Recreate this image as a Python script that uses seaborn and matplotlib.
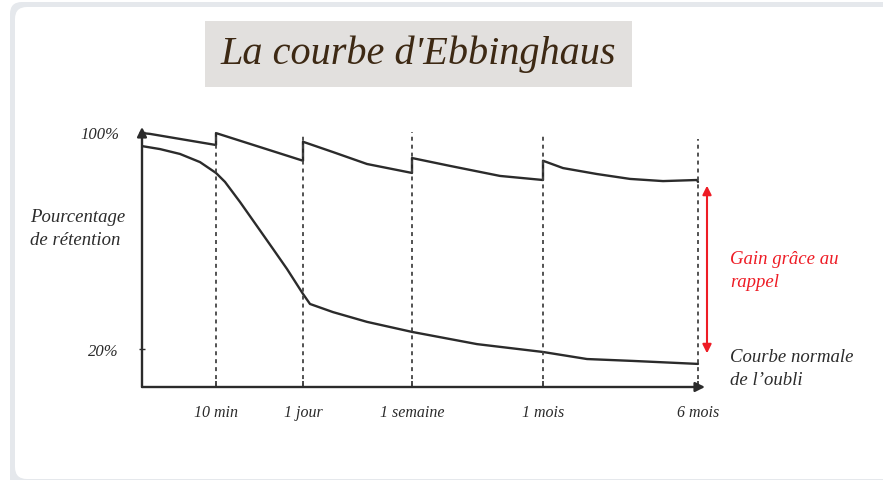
import numpy as np
import pandas as pd
import seaborn as sns
import matplotlib.pyplot as plt
from matplotlib.patches import FancyBboxPatch, Rectangle

# --- data (x = position on the non-linear time axis, y = % retention) ---
time_labels = ["10 min", "1 jour", "1 semaine", "1 mois", "6 mois"]
time_pos = [0.74, 1.61, 2.70, 4.01, 5.56]
dash_tops = [100.0, 98.5, 100.0, 98.9, 97.4]

forget_x = [0.0, 0.18, 0.38, 0.58, 0.74, 0.83, 0.98, 1.15, 1.31, 1.45,
            1.61, 1.68, 1.91, 2.25, 2.70, 3.35, 4.01, 4.45, 4.91, 5.56]
forget_y = [94.8, 93.7, 91.9, 88.9, 84.9, 81.6, 74.2, 65.3, 56.9, 49.5,
            40.3, 36.6, 33.6, 30.0, 26.3, 21.8, 18.9, 16.3, 15.6, 14.5]

recall_x = [0.0, 0.08, 0.74, 0.74, 1.61, 1.61, 1.91, 2.25, 2.70, 2.70,
            3.08, 3.58, 4.01, 4.01, 4.21, 4.55, 4.88, 5.21, 5.55, 5.56]
recall_y = [99.6, 99.3, 95.2, 99.6, 89.4, 96.4, 92.6, 88.2, 84.9, 90.4,
            87.5, 83.8, 82.3, 89.4, 86.7, 84.5, 82.7, 81.9, 82.3, 81.6]

gain_top, gain_bottom = 80.2, 18.4

sns.set_theme(style="white")
plt.rcParams["font.family"] = ["Liberation Serif", "DejaVu Serif"]

ink = "#2b2b2b"
red = "#ee1c25"

fig = plt.figure(figsize=(8.83, 4.81), dpi=100)

# background card + title box, drawn in pixel coordinates
bg = fig.add_axes([0, 0, 1, 1], zorder=-1)
bg.set_xlim(0, 883)
bg.set_ylim(481, 0)
bg.axis("off")
bg.add_patch(FancyBboxPatch((10, 3), 900, 500, boxstyle="round,pad=0,rounding_size=12",
                            fc="#e5e8ec", ec="none"))
bg.add_patch(FancyBboxPatch((15, 8), 900, 472, boxstyle="round,pad=0,rounding_size=12",
                            fc="white", ec="none"))
bg.add_patch(Rectangle((205, 22), 427, 66, fc="#e2e0de", ec="none"))
bg.text(418, 54, "La courbe d'Ebbinghaus", fontsize=29, style="italic",
        color="#3d2914", ha="center", va="center")
bg.text(30, 229, "Pourcentage\nde rétention", fontsize=13.5, style="italic",
        color=ink, ha="left", va="center", linespacing=1.45)
bg.text(730, 271, "Gain grâce au\nrappel", fontsize=13.5, style="italic",
        color=red, ha="left", va="center", linespacing=1.5)
bg.text(730, 369, "Courbe normale\nde l’oubli", fontsize=13.5, style="italic",
        color=ink, ha="left", va="center", linespacing=1.45)

ax = fig.add_axes([142 / 883, 1 - 388 / 481, (705 - 142) / 883, (388 - 128) / 481])
ax.set_facecolor("none")

curves = pd.concat([
    pd.DataFrame({"x": forget_x, "y": forget_y, "curve": "oubli"}),
    pd.DataFrame({"x": recall_x, "y": recall_y, "curve": "rappel"}),
])
for name, grp in curves.groupby("curve"):
    sns.lineplot(data=grp, x="x", y="y", sort=False, estimator=None,
                 color=ink, lw=1.7, ax=ax, legend=False)

ymin = 5.99
ax.vlines(time_pos, ymin, dash_tops, colors="#444444", linestyles=(0, (2.2, 2.2)), lw=1.3)

ax.set_xlim(0, 5.63)
ax.set_ylim(ymin, 101.84)
sns.despine(ax=ax, left=True, bottom=True)

# axis arrows
arrow_kw = dict(arrowstyle="-|>", lw=1.7, color=ink, mutation_scale=14, shrinkA=0, shrinkB=0)
ax.annotate("", xy=(0, 1.0), xytext=(0, 0), xycoords="axes fraction", arrowprops=arrow_kw)
ax.annotate("", xy=(1.0, 0), xytext=(0, 0), xycoords="axes fraction", arrowprops=arrow_kw)

# red gain arrow
ax.annotate("", xy=(5.65, gain_top), xytext=(5.65, gain_bottom), annotation_clip=False,
            arrowprops=dict(arrowstyle="<|-|>", lw=1.5, color=red, mutation_scale=13,
                            shrinkA=0, shrinkB=0))

ax.set_xticks(time_pos)
ax.set_xticklabels(time_labels, fontsize=11.5, style="italic", color=ink)
ax.set_yticks([20, 100])
ax.set_yticklabels(["20%", "100%"], fontsize=12, style="italic", color=ink)
ax.tick_params(axis="x", direction="in", length=4, width=1.2, color=ink, pad=12, bottom=True)
ax.tick_params(axis="y", direction="inout", length=5, width=1.0, color=ink, pad=14, left=True)
ax.set_xlabel("")
ax.set_ylabel("")

fig.savefig("out.png", dpi=100)
